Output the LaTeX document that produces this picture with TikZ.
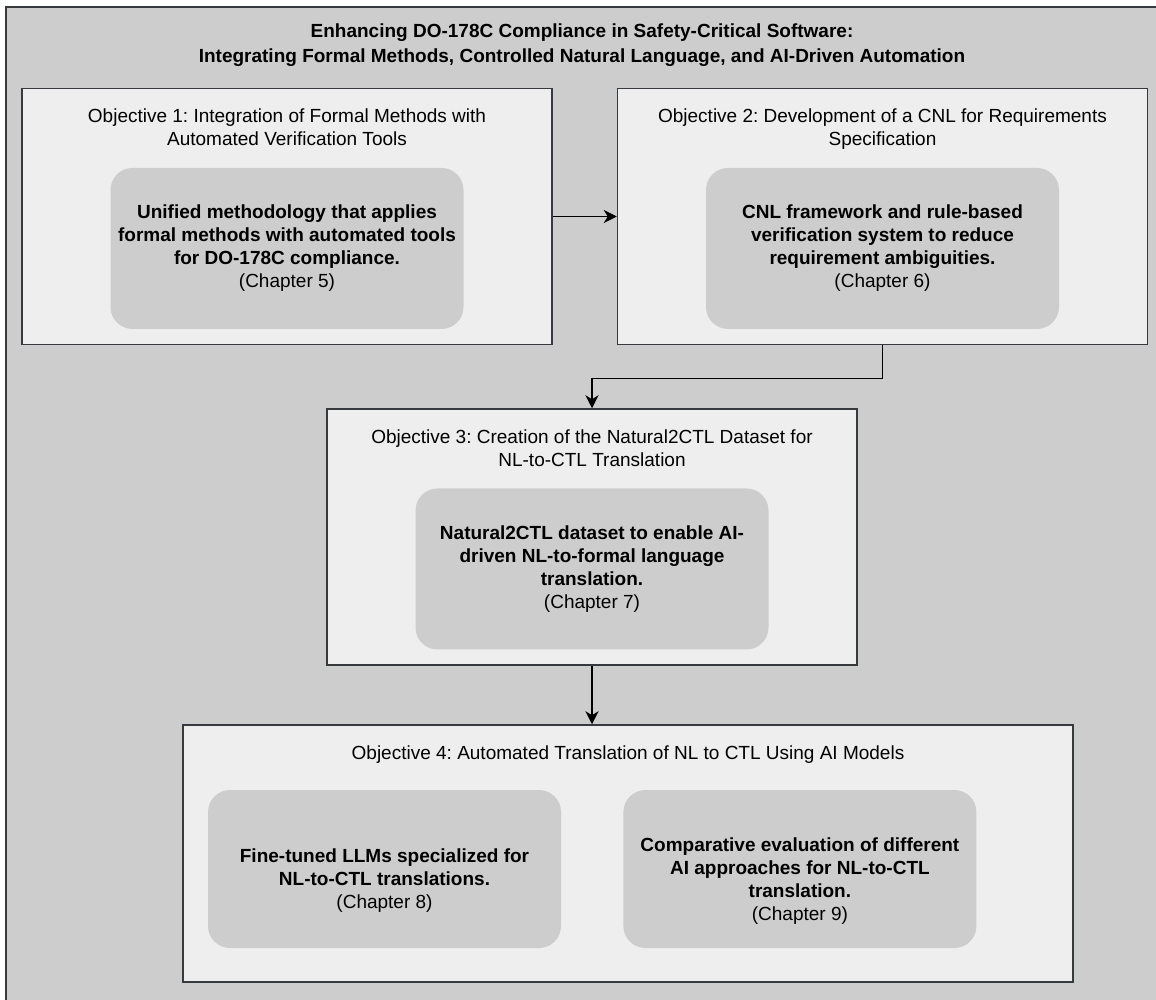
\documentclass[tikz,border=0pt]{standalone}
\usepackage{fontspec}
\setmainfont{Liberation Sans}
\usetikzlibrary{arrows.meta,positioning}
\definecolor{framegray}{HTML}{CDCDCD}
\definecolor{boxgray}{HTML}{EEEEEE}
\definecolor{cardgray}{HTML}{CDCDCD}
\definecolor{edgegray}{HTML}{36393D}
\frenchspacing

\begin{document}
\begin{tikzpicture}[x=1pt,y=-1pt,frame/.style={draw=edgegray,line width=1.5pt,fill=framegray},objbox/.style={draw=edgegray,line width=1.5pt,fill=boxgray,minimum width=530pt,minimum height=256pt,inner sep=0pt},head/.style={align=center,font=\fontsize{19}{23}\selectfont,inner sep=0pt},card/.style={fill=cardgray,rounded corners=22pt,minimum width=353pt,minimum height=161pt,align=center,font=\fontsize{19}{23}\selectfont\bfseries,inner sep=0pt},cardtext/.style={align=center,font=\fontsize{19}{23}\selectfont\bfseries,inner sep=0pt},arr/.style={-{Stealth[length=13pt,width=13pt,inset=4pt]},line width=1.3pt}]
\useasboundingbox (0,0) rectangle (1156,999);
\clip (0,0) rectangle (1156,999);
\draw[frame] (6,7) rectangle (1190,1030);
\node[head,font=\fontsize{19}{25}\selectfont\bfseries] (title) at (582,45) {Enhancing DO-178C Compliance in Safety-Critical Software:\\Integrating Formal Methods, Controlled Natural Language, and AI-Driven Automation};
% objectives
\node[objbox] (obj1) at (287,216.5) {};
\node[objbox,right=64pt of obj1] (obj2) {};
\node[objbox] (obj3) at (592,537) {};
\node[objbox,minimum width=890pt,minimum height=257pt] (obj4) at (628,853.5) {};
\node[head,below=21pt of obj1.north] (head1) {Objective 1: Integration of Formal Methods with\\Automated Verification Tools};
\node[head,below=21pt of obj2.north] (head2) {Objective 2: Development of a CNL for Requirements\\Specification};
\node[head,below=21pt of obj3.north] (head3) {Objective 3: Creation of the Natural2CTL Dataset for\\NL-to-CTL Translation};
\node[head,below=21pt of obj4.north] (head4) {Objective 4: Automated Translation of NL to CTL Using AI Models};
% contributions
\node[card,below=80pt of obj1.north] (res1) {Unified methodology that applies\\formal methods with automated tools\\for DO-178C compliance.\\{\mdseries (Chapter 5)}};
\node[card,below=80pt of obj2.north] (res2) {CNL framework and rule-based\\verification system to reduce\\requirement ambiguities.\\{\mdseries (Chapter 6)}};
\node[card,below=80pt of obj3.north] (res3) {Natural2CTL dataset to enable AI-\\driven NL-to-formal language\\translation.\\{\mdseries (Chapter 7)}};
\node[card,minimum height=158pt] (res4) at (384.5,869) {};
\node[card,minimum height=158pt,right=62pt of res4] (res5) {};
\node[cardtext] (txt4) at ([yshift=-12pt]res4.center) {Fine-tuned LLMs specialized for\\NL-to-CTL translations.\\{\mdseries (Chapter 8)}};
\node[cardtext] (txt5) at ([yshift=-12pt]res5.center) {Comparative evaluation of different\\AI approaches for NL-to-CTL\\translation.\\{\mdseries (Chapter 9)}};
\draw[arr] (obj1) -- (obj2);
\draw[arr] (obj2.south) -- ++(0,33) -| (obj3.north);
\draw[arr] (obj3.south) -- (obj3.south |- obj4.north);
\end{tikzpicture}
\end{document}
